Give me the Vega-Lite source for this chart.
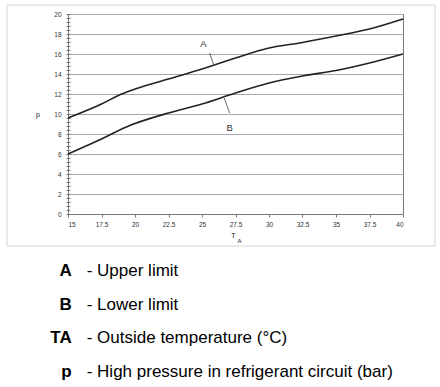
{
  "$schema": "https://vega.github.io/schema/vega-lite/v6.json",
  "padding": {"left": 6, "top": 4, "right": 5, "bottom": 0},
  "background": "white",
  "spacing": 7,
  "config": {
    "font": "Liberation Sans",
    "view": {"stroke": null},
    "axis": {"labelOverlap": false},
    "axisQuantitative": {"labelOverlap": false},
    "axisX": {
      "labelOverlap": false,
      "labelExpr": "'' + datum.value",
      "titleFontSize": 7, "titleFontWeight": "normal", "titleColor": "#222",
      "titleX": 165, "titleY": 21, "titleBaseline": "middle", "titleAlign": "center",
      "labelFontSize": 6.5, "labelColor": "#333", "labelPadding": 4,
      "tickSize": 3, "tickColor": "#777", "domainColor": "#777",
      "grid": false
    }
  },
  "datasets": {
    "curves": [
      {"T": 15, "p": 9.6, "series": "A"},
      {"T": 17.5, "p": 11.0, "series": "A"},
      {"T": 19, "p": 12.0, "series": "A"},
      {"T": 20, "p": 12.5, "series": "A"},
      {"T": 22.5, "p": 13.5, "series": "A"},
      {"T": 25, "p": 14.5, "series": "A"},
      {"T": 27.5, "p": 15.6, "series": "A"},
      {"T": 30, "p": 16.6, "series": "A"},
      {"T": 32.5, "p": 17.15, "series": "A"},
      {"T": 35, "p": 17.8, "series": "A"},
      {"T": 37.5, "p": 18.5, "series": "A"},
      {"T": 40, "p": 19.5, "series": "A"},
      {"T": 15, "p": 6.0, "series": "B"},
      {"T": 17.5, "p": 7.5, "series": "B"},
      {"T": 19.7, "p": 8.9, "series": "B"},
      {"T": 20, "p": 9.05, "series": "B"},
      {"T": 22.5, "p": 10.1, "series": "B"},
      {"T": 25, "p": 11.0, "series": "B"},
      {"T": 27.5, "p": 12.1, "series": "B"},
      {"T": 30, "p": 13.1, "series": "B"},
      {"T": 32.5, "p": 13.8, "series": "B"},
      {"T": 35, "p": 14.35, "series": "B"},
      {"T": 37.5, "p": 15.1, "series": "B"},
      {"T": 40, "p": 16.0, "series": "B"}
    ],
    "labels": [
      {"T": 25.1, "p": 17.0, "text": "A"},
      {"T": 27.06, "p": 8.6, "text": "B"}
    ],
    "leaders": [
      {"T": 25.57, "p": 16.1, "T2": 25.87, "p2": 14.95},
      {"T": 26.66, "p": 11.6, "T2": 27.06, "p2": 10.1}
    ],
    "legend": [
      {"key": "A", "desc": "- Upper limit"},
      {"key": "B", "desc": "- Lower limit"},
      {"key": "TA", "desc": "- Outside temperature (°C)"},
      {"key": "p", "desc": "- High pressure in refrigerant circuit (bar)"}
    ]
  },
  "vconcat": [
    {
      "width": 335,
      "height": 200,
      "view": {"stroke": "#777", "strokeWidth": 1},
      "layer": [
        {
          "data": {"name": "curves"},
          "mark": {"type": "line", "color": "#222", "strokeWidth": 1.6, "interpolate": "monotone"},
          "encoding": {
            "x": {
              "field": "T", "type": "quantitative",
              "scale": {"domain": [15, 40], "nice": false, "zero": false},
              "axis": {
                "title": "T",
                "values": [15, 17.5, 20, 22.5, 25, 27.5, 30, 32.5, 35, 37.5, 40],
                "labelExpr": "'' + datum.value",
                "labelOverlap": false,
                "labelBound": false
              }
            },
            "y": {
              "field": "p", "type": "quantitative",
              "scale": {"domain": [0, 20], "nice": false, "zero": false},
              "axis": {
                "orient": "left",
                "values": [0, 2, 4, 6, 8, 10, 12, 14, 16, 18, 20],
                "labelOverlap": false,
                "title": "p", "titleAngle": 0, "titleFontSize": 7, "titleFontWeight": "normal", "titleColor": "#222",
                "titleX": -30.5, "titleY": 100, "titleBaseline": "middle", "titleAlign": "center",
                "labelFontSize": 6.5, "labelColor": "#333", "labelPadding": 7,
                "ticks": false, "domainColor": "#777",
                "grid": true, "gridColor": "#a8a8a8", "gridWidth": 1
              }
            },
            "detail": {"field": "series"}
          }
        },
        {
          "data": {"values": [{}]},
          "mark": {"type": "rect", "fill": "transparent", "stroke": "#d4d4d4", "strokeWidth": 1},
          "encoding": {
            "x": {
              "datum": 10.448, "type": "quantitative",
              "axis": {
                "title": "T",
                "values": [15, 17.5, 20, 22.5, 25, 27.5, 30, 32.5, 35, 37.5, 40],
                "labelExpr": "'' + datum.value",
                "labelOverlap": false,
                "labelBound": false
              }
            },
            "x2": {"datum": 42.39},
            "y": {"datum": 20.9, "type": "quantitative", "axis": null},
            "y2": {"datum": -3.2}
          }
        },
        {
          "data": {"name": "curves"},
          "mark": {"type": "line", "opacity": 0},
          "encoding": {
            "x": {"field": "T", "type": "quantitative", "axis": {"title": "T", "values": [15, 17.5, 20, 22.5, 25, 27.5, 30, 32.5, 35, 37.5, 40], "labelExpr": "'' + datum.value", "labelOverlap": false}},
            "y": {
              "field": "p", "type": "quantitative",
              "axis": {
                "orient": "left",
                "values": [0, 0.4, 0.8, 1.2, 1.6, 2, 2.4, 2.8, 3.2, 3.6, 4, 4.4, 4.8, 5.2, 5.6, 6, 6.4, 6.8, 7.2, 7.6, 8, 8.4, 8.8, 9.2, 9.6, 10, 10.4, 10.8, 11.2, 11.6, 12, 12.4, 12.8, 13.2, 13.6, 14, 14.4, 14.8, 15.2, 15.6, 16, 16.4, 16.8, 17.2, 17.6, 18, 18.4, 18.8, 19.2, 19.6, 20],
                "title": null, "labels": false, "domain": false, "grid": false,
                "offset": -2, "tickSize": 4, "tickColor": "#777"
              }
            },
            "detail": {"field": "series"}
          }
        },
        {
          "data": {"name": "leaders"},
          "mark": {"type": "rule", "color": "#444", "strokeWidth": 0.8},
          "encoding": {
            "x": {"field": "T", "type": "quantitative", "axis": {"title": "T", "values": [15, 17.5, 20, 22.5, 25, 27.5, 30, 32.5, 35, 37.5, 40], "labelExpr": "'' + datum.value", "labelOverlap": false}},
            "y": {"field": "p", "type": "quantitative", "axis": null},
            "x2": {"field": "T2"},
            "y2": {"field": "p2"}
          }
        },
        {
          "data": {"name": "labels"},
          "mark": {"type": "text", "fontSize": 9.5, "color": "#333", "baseline": "middle", "align": "center"},
          "encoding": {
            "x": {"field": "T", "type": "quantitative", "axis": {"title": "T", "values": [15, 17.5, 20, 22.5, 25, 27.5, 30, 32.5, 35, 37.5, 40], "labelExpr": "'' + datum.value", "labelOverlap": false}},
            "y": {"field": "p", "type": "quantitative", "axis": null},
            "text": {"field": "text"}
          }
        },
        {
          "data": {"values": [{"T": 27.8, "p": -2.66, "text": "A"}]},
          "mark": {"type": "text", "fontSize": 6, "color": "#222", "baseline": "middle", "align": "center"},
          "encoding": {
            "x": {"field": "T", "type": "quantitative", "axis": {"title": "T", "values": [15, 17.5, 20, 22.5, 25, 27.5, 30, 32.5, 35, 37.5, 40], "labelExpr": "'' + datum.value", "labelOverlap": false}},
            "y": {"field": "p", "type": "quantitative", "axis": null},
            "text": {"field": "text"}
          }
        }
      ],
      "resolve": {"axis": {"y": "independent"}}
    },
    {
      "width": 335,
      "height": 135,
      "data": {"name": "legend"},
      "encoding": {
        "y": {"field": "key", "type": "nominal", "sort": null, "axis": null}
      },
      "layer": [
        {
          "mark": {"type": "text", "align": "right", "baseline": "middle", "dx": -163.8, "fontSize": 17, "fontWeight": "bold", "color": "#000"},
          "encoding": {"text": {"field": "key"}}
        },
        {
          "mark": {"type": "text", "align": "left", "baseline": "middle", "dx": -148.8, "fontSize": 17, "color": "#000"},
          "encoding": {"text": {"field": "desc"}}
        }
      ]
    }
  ]
}
